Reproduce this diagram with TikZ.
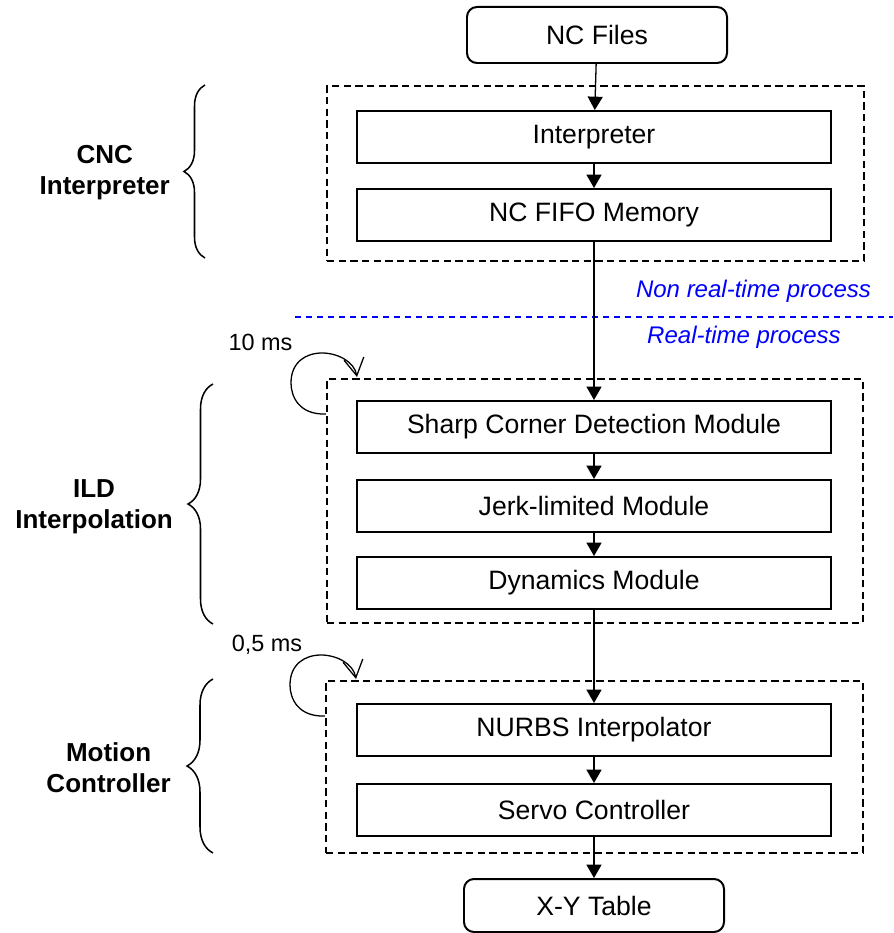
\documentclass[tikz,border=0pt]{standalone}
\usepackage{fontspec}
\setmainfont{Liberation Sans}
\usepackage{tikz}
\usetikzlibrary{positioning,arrows.meta,decorations.pathreplacing}
\definecolor{processBlue}{RGB}{0,0,255}

\begin{document}
\begin{tikzpicture}[
    x=0.03cm, y=-0.03cm,
    module/.style={rectangle, draw, line width=1.7pt, minimum width=14.22cm, minimum height=1.56cm, inner sep=0pt, font=\fontsize{22.7}{26}\selectfont},
    terminal/.style={rectangle, draw, rounded corners=0.3cm, line width=1.7pt, minimum width=7.8cm, inner sep=0pt, font=\fontsize{22.7}{26}\selectfont},
    stagebox/.style={rectangle, draw, dash pattern=on 0.22cm off 0.13cm, line width=1.7pt, inner sep=0pt},
    flow/.style={-{Triangle[length=0.4cm,width=0.45cm]}, line width=1.1pt},
    looparrow/.style={-{Straight Barb[length=0.52cm,width=0.6cm]}, line width=1.1pt},
    bracket/.style={decorate, decoration={brace}, line width=1.3pt},
    stage/.style={anchor=east, align=center, inner sep=0pt, font=\bfseries\fontsize{22.2}{26.5}\selectfont},
    timing/.style={inner sep=0pt, font=\fontsize{20}{24}\selectfont},
    processlabel/.style={inner sep=0pt, text=processBlue, font=\itshape\fontsize{20.5}{24}\selectfont},
    divider/.style={processBlue, line width=1.1pt, dash pattern=on 0.18cm off 0.15cm}
]
\useasboundingbox (0,0) rectangle (893,933);

% Input
\node[terminal, minimum height=1.68cm] (ncfiles) at (597,35) {NC Files};

% CNC Interpreter
\node[stagebox, minimum width=16.11cm, minimum height=5.25cm] (grpcnc) at (595.5,173.5) {};
\node[module] (interp) at (594,137) {Interpreter};
\node[module] (fifo) at (594,215) {NC FIFO Memory};
\draw[bracket, decoration={amplitude=0.63cm}] (205,258) -- (205,85);
\node[stage] (cnclabel) at (170,172.5) {CNC\\Interpreter};

% Real-time border
\draw[divider] (295,317) -- (893,317);
\node[processlabel] (nonrt) at (753.5,291) {Non real-time process};
\node[processlabel] (rt) at (744,337) {Real-time process};

% ILD Interpolation
\node[stagebox, minimum width=16.08cm, minimum height=7.32cm] (grpild) at (595,501) {};
\node[module] (sharp) at (594,427) {Sharp Corner Detection Module};
\node[module] (jerk) at (594,506) {Jerk-limited Module};
\node[module] (dyn) at (594,583) {Dynamics Module};
\draw[bracket, decoration={amplitude=0.75cm}] (213,624) -- (213,384);
\node[stage] (ildlabel) at (173,507) {ILD\\Interpolation};
\node[timing] (tenms) at (260.5,342) {10 ms};
\begin{scope}[shift={(grpild.north west)}]
\draw[looparrow] (0,36) .. controls (-26.5,37) and (-35,19) .. (-35,5)
    .. controls (-35,-16) and (-20,-25) .. (-4,-25)
    .. controls (12,-25) and (28.5,-16) .. (31,-1);
\end{scope}

% Motion Controller
\node[stagebox, minimum width=16.11cm, minimum height=5.16cm] (grpmotion) at (594.5,767) {};
\node[module] (nurbs) at (594,730) {NURBS Interpolator};
\node[module] (servo) at (594,810) {Servo Controller};
\draw[bracket, decoration={amplitude=0.78cm}] (213,853) -- (213,679);
\node[stage] (motionlabel) at (171,767.5) {Motion\\Controller};
\node[timing] (halfms) at (267,645) {0,5 ms};
\begin{scope}[shift={(grpmotion.north west)}]
\draw[looparrow] (0,36) .. controls (-26.5,37) and (-35,19) .. (-35,5)
    .. controls (-35,-16) and (-20,-25) .. (-4,-25)
    .. controls (12,-25) and (28.5,-16) .. (31,-1);
\end{scope}

% Output
\node[terminal, minimum height=1.59cm] (xytable) at (594,905.5) {X-Y Table};

% Flows
\draw[flow] (ncfiles) -- (interp);
\draw[flow] (interp) -- (fifo);
\draw[flow] (fifo) -- (sharp);
\draw[flow] (sharp) -- (jerk);
\draw[flow] (jerk) -- (dyn);
\draw[flow] (dyn) -- (nurbs);
\draw[flow] (nurbs) -- (servo);
\draw[flow] (servo) -- (xytable);

\end{tikzpicture}
\end{document}
